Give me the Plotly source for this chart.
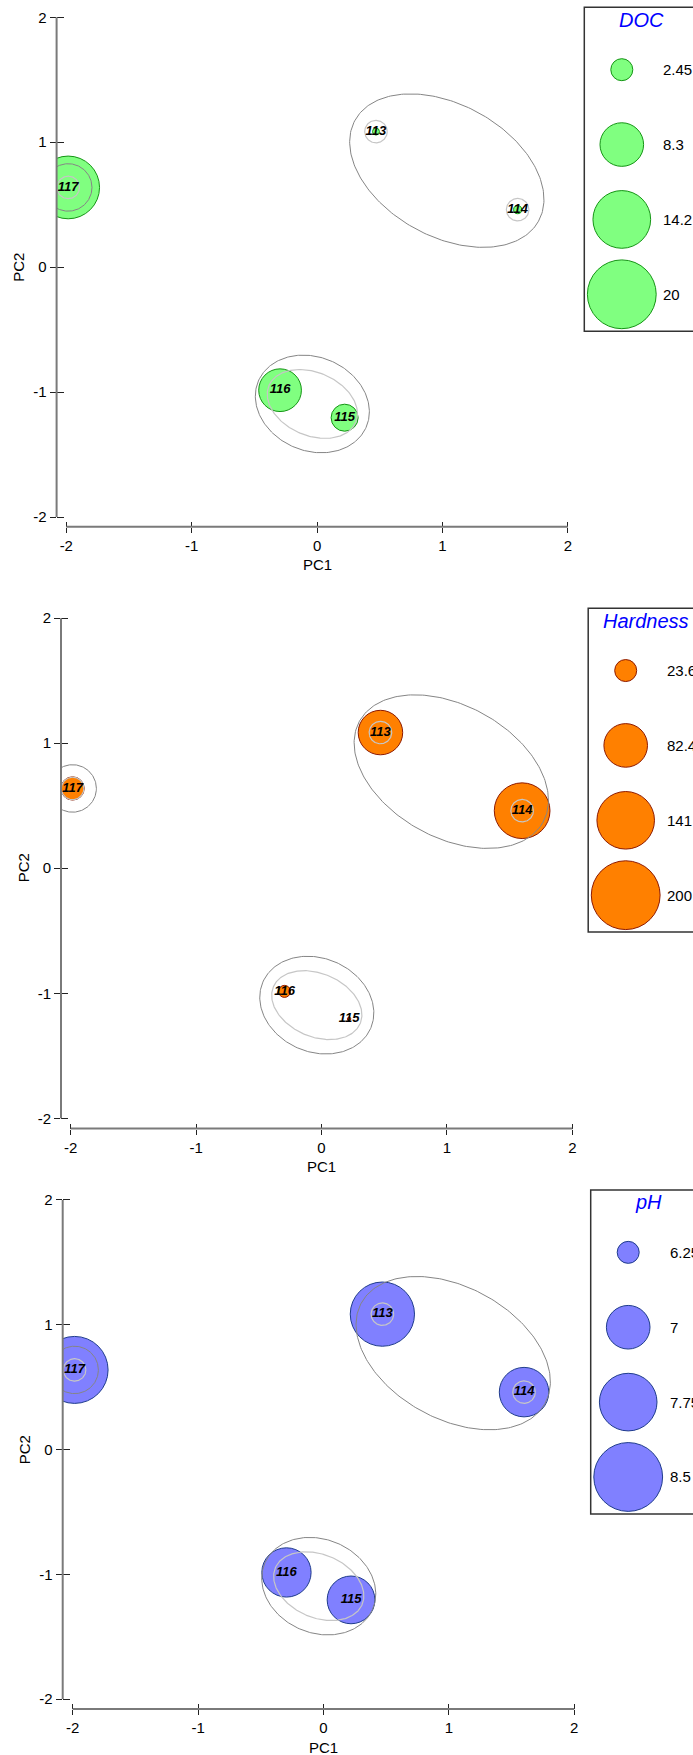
import math
import numpy as np
import plotly.graph_objects as go

W, H = 693, 1755
FONT = "Arial, Liberation Sans, sans-serif"

# Sample scores on the first two principal components
samples = ["113", "114", "115", "116", "117"]
pc1 = [0.47, 1.60, 0.22, -0.295, -1.985]
pc2 = [1.085, 0.46, -1.205, -0.985, 0.638]

# Environmental variables overlaid as bubbles
doc = [0.65, 0.72, 3.46, 7.98, 16.7]
hardness = [85.7, 132.3, 4.0, 9.5, 26.0]
ph = [8.18, 7.29, 7.2, 7.28, 8.37]

# Bubble key values and their printed labels
doc_key = [2.45, 8.3, 14.2, 20]
doc_key_labels = ["2.45", "8.3", "14.2", "20"]
hardness_key = [23.6, 82.4, 141, 200]
hardness_key_labels = ["23.6", "82.4", "141", "200"]
ph_key = [6.25, 7, 7.75, 8.5]
ph_key_labels = ["6.25", "7", "7.75", "8.5"]

# Cluster contours at two similarity levels: (members, semi-axis a, semi-axis b)
outer_contours = [(["113", "114"], 0.836, 0.528),
                  (["115", "116"], 0.468, 0.375),
                  (["117"], 0.19, 0.19)]
inner_contours = [(["113"], 0.09, 0.09),
                  (["114"], 0.09, 0.09),
                  (["115", "116"], 0.376, 0.253),
                  (["117"], 0.09, 0.09)]

tick_vals = [-2, -1, 0, 1, 2]

D_MIN, D_MAX = 22.0, 68.8   # bubble diameters (px) for first / last key value


def bubble_size(v, key):
    lo, hi = key[0], key[-1]
    area = D_MIN ** 2 + (D_MAX ** 2 - D_MIN ** 2) * (v - lo) / (hi - lo)
    return math.sqrt(max(area, 9.0))


def contour_path(members, a, b, n=240):
    idx = [samples.index(m) for m in members]
    xs = [pc1[i] for i in idx]
    ys = [pc2[i] for i in idx]
    cx, cy = float(np.mean(xs)), float(np.mean(ys))
    ang = math.atan2(ys[-1] - ys[0], xs[-1] - xs[0]) if len(idx) > 1 else 0.0
    t = np.linspace(0, 2 * math.pi, n)
    ex = cx + a * np.cos(ang) * np.cos(t) - b * np.sin(ang) * np.sin(t)
    ey = cy + a * np.sin(ang) * np.cos(t) + b * np.cos(ang) * np.sin(t)
    return ex, ey


panels = [
    dict(title="DOC", values=doc, key=doc_key, key_labels=doc_key_labels,
         fill="#80FF80", line="#149414",
         geo=dict(xlo=66.3, xhi=567.8, yhi=14.3, ylo=514.9, axx=56.6, axy=524.7, box=584.3)),
    dict(title="Hardness", values=hardness, key=hardness_key, key_labels=hardness_key_labels,
         fill="#FF8000", line="#8E1A00",
         geo=dict(xlo=70.7, xhi=572.3, yhi=616.2, ylo=1117.2, axx=61.0, axy=1127.5, box=588.2)),
    dict(title="pH", values=ph, key=ph_key, key_labels=ph_key_labels,
         fill="#8080FF", line="#1F3C8C",
         geo=dict(xlo=72.7, xhi=574.2, yhi=1199.0, ylo=1699.0, axx=62.7, axy=1709.0, box=590.7)),
]

fig = go.Figure()
layout = dict(width=W, height=H, margin=dict(l=0, r=0, t=0, b=0),
              paper_bgcolor="white", plot_bgcolor="white", showlegend=False,
              font=dict(family=FONT, size=15, color="black"))
shapes, annotations = [], []

AX_COL = "#7A7A7A"
TICK_COL = "#222222"

for p, pan in enumerate(panels, start=1):
    g = pan["geo"]
    kx = (g["xhi"] - g["xlo"]) / 4.0
    ky = (g["ylo"] - g["yhi"]) / 4.0
    xr = [-2 - (g["xlo"] - g["axx"]) / kx, 2 + 6 / kx]
    yr = [-2 - (g["axy"] - g["ylo"]) / ky, 2 + 6 / ky]
    xdom = [g["axx"] / W, (g["xhi"] + 6) / W]
    ydom = [1 - g["axy"] / H, 1 - (g["yhi"] - 6) / H]

    xa, ya = f"x{p}", f"y{p}"
    xo, yo = p + 3, p + 3          # overlay axes carrying the inner tick halves
    xl, yl = p + 6, p + 6          # axes for the bubble key

    common = dict(showgrid=False, zeroline=False, showline=False,
                  tickvals=tick_vals, tickcolor=TICK_COL, tickwidth=1)
    layout[f"xaxis{p}"] = dict(domain=xdom, range=xr, anchor=ya, ticks="outside", ticklen=5,
                               ticktext=[str(v) for v in tick_vals],
                               tickfont=dict(size=15, family=FONT, color="black"), **common)
    layout[f"yaxis{p}"] = dict(domain=ydom, range=yr, anchor=xa, ticks="outside", ticklen=6,
                               ticktext=[str(v) for v in tick_vals],
                               tickfont=dict(size=15, family=FONT, color="black"), **common)
    layout[f"xaxis{xo}"] = dict(overlaying=xa, range=xr, anchor=ya, side="bottom",
                                ticks="inside", ticklen=5, showticklabels=False, **common)
    layout[f"yaxis{yo}"] = dict(overlaying=ya, range=yr, anchor=xa, side="left",
                                ticks="inside", ticklen=7, showticklabels=False, **common)
    fig.add_trace(go.Scatter(x=[], y=[], xaxis=f"x{xo}", yaxis=f"y{yo}", hoverinfo="skip"))

    # detached axis lines spanning -2..2
    x_m2 = g["xlo"] / W
    x_p2 = g["xhi"] / W
    shapes.append(dict(type="line", xref="paper", yref="paper",
                       x0=x_m2, x1=x_p2, y0=1 - g["axy"] / H, y1=1 - g["axy"] / H,
                       line=dict(color=AX_COL, width=2)))
    shapes.append(dict(type="line", xref="paper", yref="paper",
                       x0=g["axx"] / W, x1=g["axx"] / W,
                       y0=1 - g["ylo"] / H, y1=1 - g["yhi"] / H,
                       line=dict(color=AX_COL, width=2)))

    # bubbles
    sizes = [bubble_size(v, pan["key"]) for v in pan["values"]]
    fig.add_trace(go.Scatter(x=pc1, y=pc2, mode="markers", xaxis=xa, yaxis=ya,
                             marker=dict(size=sizes, color=pan["fill"], opacity=1,
                                         line=dict(color=pan["line"], width=1)),
                             hoverinfo="skip"))

    # cluster contours
    for members, a, b in outer_contours:
        ex, ey = contour_path(members, a, b)
        fig.add_trace(go.Scatter(x=ex, y=ey, mode="lines", xaxis=xa, yaxis=ya,
                                 line=dict(color="#858585", width=1), hoverinfo="skip"))
    for members, a, b in inner_contours:
        ex, ey = contour_path(members, a, b)
        fig.add_trace(go.Scatter(x=ex, y=ey, mode="lines", xaxis=xa, yaxis=ya,
                                 line=dict(color="#C6C6C6", width=1.2), hoverinfo="skip"))

    # sample labels
    fig.add_trace(go.Scatter(x=pc1, y=pc2, mode="text", text=samples, xaxis=xa, yaxis=ya,
                             textposition="middle center",
                             textfont=dict(family=FONT, size=13, color="black",
                                           weight="bold", style="italic"),
                             hoverinfo="skip"))

    # axis titles
    annotations.append(dict(text="PC1", xref=xa, x=0, yref="paper", y=1 - (g["axy"] + 38) / H,
                            yanchor="middle", xanchor="center", showarrow=False,
                            font=dict(size=15, family=FONT, color="black")))
    annotations.append(dict(text="PC2", xref="paper", x=(g["axx"] - 38) / W, yref=ya, y=0,
                            yanchor="middle", xanchor="center", textangle=-90, showarrow=False,
                            font=dict(size=15, family=FONT, color="black")))

    # bubble key
    top_rel, bot_rel = -10.0, 314.5
    layout[f"xaxis{xl}"] = dict(domain=[g["box"] / W, 1], range=[0, W - g["box"]],
                                anchor=f"y{yl}", visible=False)
    layout[f"yaxis{yl}"] = dict(domain=[1 - (g["yhi"] + bot_rel) / H, 1 - (g["yhi"] + top_rel) / H],
                                range=[bot_rel, top_rel], anchor=f"x{xl}", visible=False)
    shapes.append(dict(type="rect", xref="paper", yref="paper",
                       x0=g["box"] / W, x1=1.3,
                       y0=1 - (g["yhi"] + bot_rel) / H, y1=1 - (g["yhi"] + top_rel) / H,
                       line=dict(color="#333333", width=1.5), fillcolor="rgba(0,0,0,0)"))
    key_y = [52.5 + 75 * i for i in range(len(pan["key"]))]
    fig.add_trace(go.Scatter(x=[37.5] * len(key_y), y=key_y, mode="markers",
                             xaxis=f"x{xl}", yaxis=f"y{yl}", cliponaxis=False,
                             marker=dict(size=[bubble_size(v, pan["key"]) for v in pan["key"]],
                                         color=pan["fill"], opacity=1,
                                         line=dict(color=pan["line"], width=1)),
                             hoverinfo="skip"))
    annotations.append(dict(text=pan["title"], xref=f"x{xl}", x=57.5, yref=f"y{yl}", y=2.5,
                            xanchor="center", yanchor="middle", showarrow=False,
                            font=dict(size=20, family=FONT, color="#0000FF", style="italic")))
    for yv, lab in zip(key_y, pan["key_labels"]):
        annotations.append(dict(text=lab, xref=f"x{xl}", x=77, yref=f"y{yl}", y=yv,
                                xanchor="left", yanchor="middle", showarrow=False,
                                font=dict(size=15, family=FONT, color="black")))

layout["shapes"] = shapes
layout["annotations"] = annotations
fig.update_layout(**layout)
fig.write_html("out.html")
